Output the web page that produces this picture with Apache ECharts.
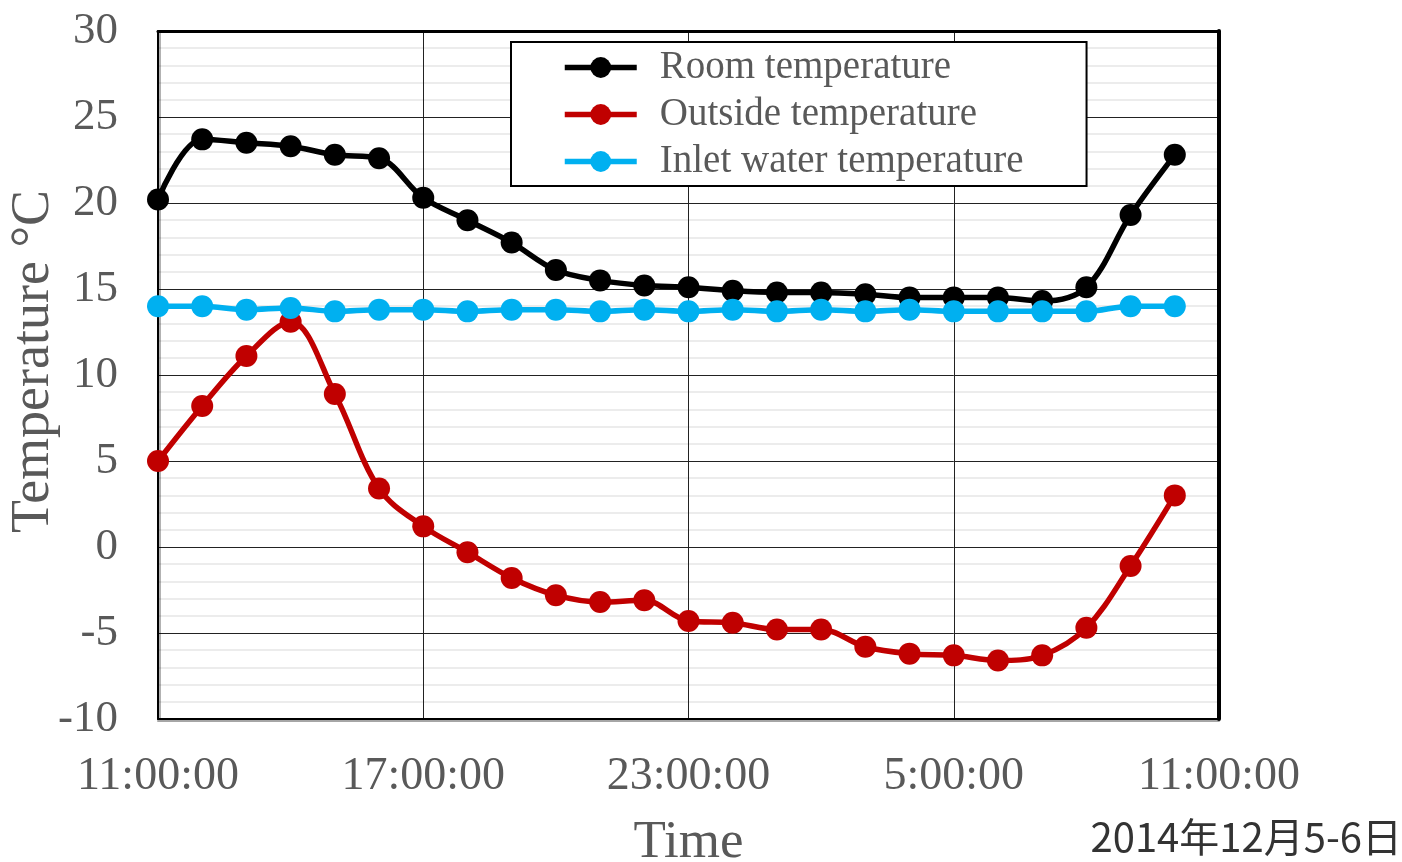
<!DOCTYPE html>
<html>
<head>
<meta charset="utf-8">
<title>Temperature</title>
<script src="https://cdn.jsdelivr.net/npm/echarts@6/dist/echarts.min.js"></script>
<style>
  html, body { margin: 0; padding: 0; background: #fff; }
  #chart { width: 1402px; height: 862px; }
</style>
</head>
<body>
<div id="chart"></div>
<script>
// Hourly readings, 11:00 on 5 Dec to 11:00 on 6 Dec
const times = [
  '11:00:00', '12:00:00', '13:00:00', '14:00:00', '15:00:00', '16:00:00',
  '17:00:00', '18:00:00', '19:00:00', '20:00:00', '21:00:00', '22:00:00',
  '23:00:00', '0:00:00', '1:00:00', '2:00:00', '3:00:00', '4:00:00',
  '5:00:00', '6:00:00', '7:00:00', '8:00:00', '9:00:00', '10:00:00', '11:00:00'
];

const roomTemp = [
  20.2, 23.7, 23.5, 23.3, 22.8, 22.6, 20.3, 19.0, 17.7, 16.1, 15.5, 15.2,
  15.1, 14.9, 14.8, 14.8, 14.7, 14.5, 14.5, 14.5, 14.3, 15.1, 19.3, 22.8
];

const outsideTemp = [
  5.0, 8.2, 11.1, 13.1, 8.9, 3.4, 1.2, -0.3, -1.8, -2.8, -3.2, -3.1,
  -4.3, -4.4, -4.8, -4.8, -5.8, -6.2, -6.3, -6.6, -6.3, -4.7, -1.1, 3.0
];

const inletWaterTemp = [
  14.0, 14.0, 13.8, 13.9, 13.7, 13.8, 13.8, 13.7, 13.8, 13.8, 13.7, 13.8,
  13.7, 13.8, 13.7, 13.8, 13.7, 13.8, 13.7, 13.7, 13.7, 13.7, 14.0, 14.0
];

const seriesNames = ['Room temperature', 'Outside temperature', 'Inlet water temperature'];
const seriesColors = ['#000000', '#c00000', '#00b0f0'];

const serif = 'Liberation Serif, Times New Roman, serif';
const labelGray = '#595959';

function lineSeries(name, data, color) {
  return {
    name: name,
    type: 'line',
    data: data,
    smooth: 0.35,
    symbol: 'circle',
    symbolSize: 22,
    showSymbol: true,
    lineStyle: { color: color, width: 5.5 },
    itemStyle: { color: color },
    emphasis: { disabled: true },
    xAxisIndex: 0,
    yAxisIndex: 0,
    z: 3
  };
}

const chart = echarts.init(document.getElementById('chart'), null, { renderer: 'canvas' });

chart.setOption({
  animation: false,
  backgroundColor: '#ffffff',
  title: {
    text: '2014年12月5-6日',
    right: 0,
    bottom: 5,
    padding: 0,
    textStyle: {
      fontFamily: 'Noto Sans CJK SC',
      fontSize: 40,
      fontWeight: 'normal',
      color: '#333333'
    }
  },
  legend: {
    data: seriesNames,
    left: 511,
    top: 42,
    orient: 'vertical',
    backgroundColor: '#ffffff',
    borderColor: '#000000',
    borderWidth: 2,
    borderRadius: 0,
    padding: [5, 63, 4, 51],
    itemWidth: 72,
    itemHeight: 26,
    itemGap: 6,
    lineStyle: { width: 5.5 },
    textStyle: {
      fontFamily: serif,
      fontSize: 39,
      lineHeight: 41,
      color: labelGray,
      padding: [0, 0, 0, 18]
    },
    z: 10
  },
  grid: {
    left: 158,
    top: 31,
    width: 1061,
    height: 688,
    containLabel: false,
    outerBoundsMode: 'none'
  },
  xAxis: [
    {
      type: 'category',
      data: times,
      boundaryGap: false,
      position: 'bottom',
      name: 'Time',
      nameLocation: 'middle',
      nameGap: 98,
      nameMoveOverlap: false,
      nameTextStyle: { fontFamily: serif, fontSize: 53, color: labelGray },
      axisLine: {
        onZero: false,
        lineStyle: {
          color: '#000000', width: 2,
          shadowColor: 'rgba(0,0,0,0.35)', shadowOffsetY: 2, shadowBlur: 0
        }
      },
      axisTick: { show: false },
      axisLabel: {
        interval: 5,
        margin: 35,
        fontFamily: serif,
        fontSize: 46,
        color: labelGray,
        showMinLabel: true,
        showMaxLabel: true
      },
      splitLine: {
        show: true,
        interval: 5,
        lineStyle: { color: '#222222', width: 1 }
      }
    },
    {
      type: 'category',
      data: times,
      boundaryGap: false,
      position: 'top',
      axisLine: { onZero: false, lineStyle: { color: '#000000', width: 3 } },
      axisTick: { show: false },
      axisLabel: { show: false },
      splitLine: { show: false }
    }
  ],
  yAxis: [
    {
      type: 'value',
      min: -10,
      max: 30,
      interval: 5,
      position: 'left',
      // leading spaces lift the rotated title slightly above the plot centre
      name: '  Temperature °C',
      nameLocation: 'middle',
      nameGap: 97,
      nameMoveOverlap: false,
      nameRotate: 90,
      nameTextStyle: { fontFamily: serif, fontSize: 54, color: labelGray },
      axisLine: {
        show: true,
        onZero: false,
        lineStyle: {
          color: '#000000', width: 2,
          shadowColor: 'rgba(0,0,0,0.3)', shadowOffsetX: 2, shadowBlur: 0
        }
      },
      axisTick: { show: false },
      axisLabel: {
        margin: 40,
        fontFamily: serif,
        fontSize: 45,
        color: labelGray
      },
      splitLine: { show: true, lineStyle: { color: '#222222', width: 1 } },
      minorTick: { show: false, splitNumber: 5 },
      minorSplitLine: { show: true, lineStyle: { color: '#ececec', width: 2 } }
    },
    {
      type: 'value',
      min: -10,
      max: 30,
      interval: 5,
      position: 'right',
      axisLine: { show: true, onZero: false, lineStyle: { color: '#000000', width: 4 } },
      axisTick: { show: false },
      axisLabel: { show: false },
      splitLine: { show: false }
    }
  ],
  series: [
    lineSeries(seriesNames[0], roomTemp, seriesColors[0]),
    lineSeries(seriesNames[1], outsideTemp, seriesColors[1]),
    lineSeries(seriesNames[2], inletWaterTemp, seriesColors[2])
  ]
});
</script>
</body>
</html>
